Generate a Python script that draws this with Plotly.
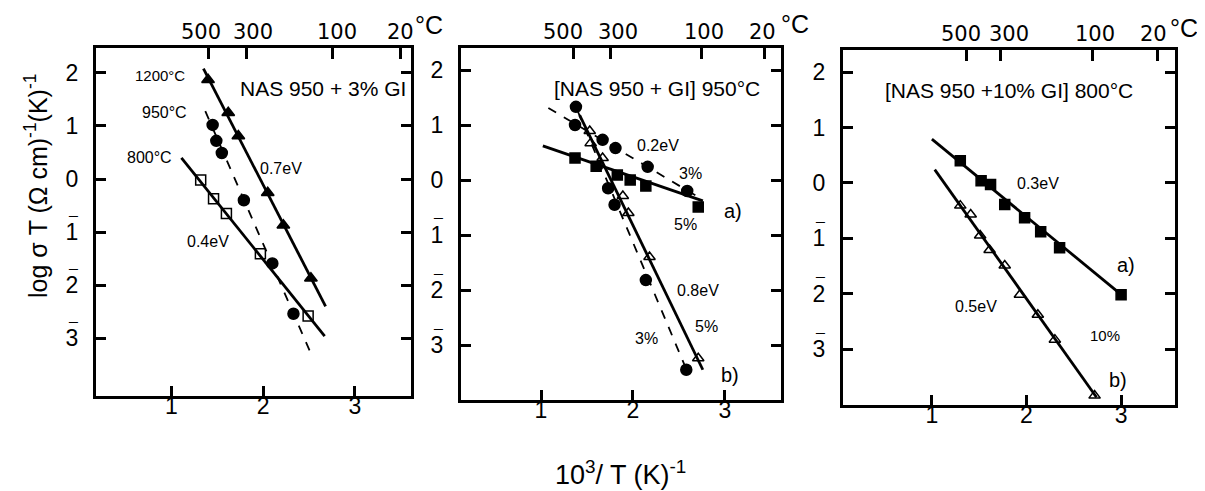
import plotly.graph_objects as go

# ---------------- data ----------------
# Panel 1: NAS 950 + 3% Gl
p1_tri_x = [1.40, 1.62, 1.73, 2.05, 2.22, 2.52]          # 1200 C
p1_tri_y = [1.87, 1.25, 0.81, -0.26, -0.87, -1.87]
p1_tri_fit_x = [1.35, 2.68]
p1_tri_fit_y = [2.08, -2.40]
p1_circ_x = [1.45, 1.49, 1.55, 1.79, 2.10, 2.33]         # 950 C
p1_circ_y = [1.02, 0.72, 0.49, -0.40, -1.59, -2.54]
p1_circ_fit_x = [1.37, 2.51]
p1_circ_fit_y = [1.28, -3.25]
p1_sq_x = [1.32, 1.46, 1.60, 1.97, 2.49]                 # 800 C
p1_sq_y = [-0.02, -0.37, -0.65, -1.41, -2.58]
p1_sq_fit_x = [1.11, 2.67]
p1_sq_fit_y = [0.40, -2.96]

# Panel 2: [NAS 950 + Gl] 950 C
p2_circA_x = [1.37, 1.67, 1.81, 2.16, 2.59]              # 3% a)
p2_circA_y = [1.00, 0.73, 0.58, 0.24, -0.20]
p2_circA_fit_x = [1.08, 2.76]
p2_circA_fit_y = [1.31, -0.36]
p2_sqA_x = [1.37, 1.60, 1.83, 1.97, 2.14, 2.71]          # 5% a)
p2_sqA_y = [0.40, 0.25, 0.09, 0.00, -0.11, -0.49]
p2_sqA_fit_x = [1.02, 2.76]
p2_sqA_fit_y = [0.62, -0.38]
p2_triB_x = [1.53, 1.54, 1.67, 1.89, 1.95, 2.18, 2.71]   # 5% b)
p2_triB_y = [0.89, 0.67, 0.40, -0.29, -0.60, -1.40, -3.24]
p2_triB_fit_x = [1.42, 2.76]
p2_triB_fit_y = [1.18, -3.45]
p2_circB_x = [1.38, 1.73, 1.80, 2.14, 2.58]              # 3% b)
p2_circB_y = [1.33, -0.15, -0.45, -1.82, -3.45]
p2_circB_fit_x = [1.40, 2.57]
p2_circB_fit_y = [1.25, -3.40]

# Panel 3: [NAS 950 + 10% Gl] 800 C
p3_sq_x = [1.30, 1.52, 1.62, 1.77, 1.98, 2.15, 2.35, 3.00]   # a)
p3_sq_y = [0.40, 0.04, -0.03, -0.39, -0.63, -0.88, -1.17, -2.02]
p3_sq_fit_x = [1.00, 3.04]
p3_sq_fit_y = [0.79, -2.07]
p3_tri_x = [1.30, 1.41, 1.51, 1.61, 1.77, 1.93, 2.12, 2.30, 2.72]  # b)
p3_tri_y = [-0.41, -0.57, -0.95, -1.21, -1.49, -2.02, -2.38, -2.83, -3.84]
p3_tri_fit_x = [1.03, 2.74]
p3_tri_fit_y = [0.24, -3.87]

# axis ticks (negative characteristics written with a bar over the digit)
bottom_ticks = [1, 2, 3]
y_ticks = [2, 1, 0, -1, -2, -3]
y_ticktext = ["2", "1", "0", "1", "2", "3"]
barred_ticks = [-1, -2, -3]
# top temperature scale (deg C): tick positions in 10^3/T units as drawn
top_ticktext = ["500", "300", "100", "20"]
top_tickpos_1 = [1.40, 1.82, 2.76, 3.50]
top_tickpos_2 = [1.35, 1.76, 2.74, 3.43]
top_tickpos_3 = [1.37, 1.73, 2.70, 3.39]

FONT = "Liberation Sans, Arial, Helvetica, sans-serif"
WIDEFONT = "DejaVu Sans, Verdana, sans-serif"
W, H = 1205, 491

fig = go.Figure()

def line(x, y, xa, ya, dash="solid", width=2.8):
    fig.add_trace(go.Scatter(x=x, y=y, mode="lines", xaxis=xa, yaxis=ya,
                             line=dict(color="black", width=width, dash=dash),
                             showlegend=False, hoverinfo="skip"))

def pts(x, y, xa, ya, symbol, size=10, lw=1.5):
    fig.add_trace(go.Scatter(x=x, y=y, mode="markers", xaxis=xa, yaxis=ya,
                             marker=dict(symbol=symbol, size=size, color="black",
                                         line=dict(color="black", width=lw)),
                             showlegend=False, hoverinfo="skip"))

# panel 1
line(p1_tri_fit_x, p1_tri_fit_y, "x", "y")
line(p1_circ_fit_x, p1_circ_fit_y, "x", "y", dash="dash", width=1.8)
line(p1_sq_fit_x, p1_sq_fit_y, "x", "y")
pts(p1_tri_x, p1_tri_y, "x", "y", "triangle-up", 11)
pts(p1_circ_x, p1_circ_y, "x", "y", "circle", 11)
pts(p1_sq_x, p1_sq_y, "x", "y", "square-open", 10)

# panel 2
line(p2_circA_fit_x, p2_circA_fit_y, "x2", "y2", dash="dash", width=1.8)
line(p2_sqA_fit_x, p2_sqA_fit_y, "x2", "y2")
line(p2_triB_fit_x, p2_triB_fit_y, "x2", "y2")
line(p2_circB_fit_x, p2_circB_fit_y, "x2", "y2", dash="dash", width=1.8)
pts(p2_circA_x, p2_circA_y, "x2", "y2", "circle", 11)
pts(p2_sqA_x, p2_sqA_y, "x2", "y2", "square", 10)
pts(p2_triB_x, p2_triB_y, "x2", "y2", "triangle-up-open", 10)
pts(p2_circB_x, p2_circB_y, "x2", "y2", "circle", 11)

# panel 3
line(p3_sq_fit_x, p3_sq_fit_y, "x3", "y3")
line(p3_tri_fit_x, p3_tri_fit_y, "x3", "y3")
pts(p3_sq_x, p3_sq_y, "x3", "y3", "square", 10)
pts(p3_tri_x, p3_tri_y, "x3", "y3", "triangle-up-open", 10)

# invisible traces on the top axes
for xa, ya, pos in (("x4", "y", top_tickpos_1), ("x5", "y2", top_tickpos_2), ("x6", "y3", top_tickpos_3)):
    fig.add_trace(go.Scatter(x=[pos[0]], y=[0], mode="markers", xaxis=xa, yaxis=ya,
                             marker=dict(opacity=0), showlegend=False, hoverinfo="skip"))

# panel geometry (pixels) and where the top labels sit (they are spread apart in the original)
panels = [
    dict(x0=88, x1=403, y0=40, y1=388, xr=[0.18, 3.61], yr=[-4.09, 2.47], top=top_tickpos_1,
         toplab=[193, 245, 329, 392], degc=(421, 17)),
    dict(x0=453, x1=773, y0=40, y1=392, xr=[0.13, 3.61], yr=[-4.0, 2.4], top=top_tickpos_2,
         toplab=[555, 610, 696, 754], degc=(787, 16)),
    dict(x0=835, x1=1167, y0=42, y1=397, xr=[0.06, 3.57], yr=[-4.01, 2.40], top=top_tickpos_3,
         toplab=[953, 1001, 1087, 1145], degc=(1176, 20)),
]

tickfont = dict(family=FONT, size=23, color="black")
layout = dict()
for i, p in enumerate(panels):
    n = "" if i == 0 else str(i + 1)
    xd = [p["x0"] / W, p["x1"] / W]
    yd = [1 - p["y1"] / H, 1 - p["y0"] / H]
    layout["xaxis" + n] = dict(domain=xd, range=p["xr"], anchor="y" + n,
                               tickvals=bottom_ticks, ticks="inside", ticklen=10, tickwidth=2.5,
                               tickcolor="black", showline=True, linecolor="black", linewidth=3,
                               mirror=True, showgrid=False, zeroline=False, tickfont=tickfont,
                               ticklabelstandoff=-13)
    layout["yaxis" + n] = dict(domain=yd, range=p["yr"], anchor="x" + n,
                               tickvals=y_ticks, ticktext=y_ticktext, ticks="inside", ticklen=10,
                               tickwidth=2.5, tickcolor="black", showline=True, linecolor="black",
                               linewidth=3, mirror="ticks", showgrid=False, zeroline=False,
                               tickfont=tickfont, ticklabelstandoff=10)
    layout["xaxis" + str(i + 4)] = dict(overlaying="x" + n, side="top", anchor="y" + n,
                                         range=p["xr"], tickvals=p["top"], showticklabels=False,
                                         ticks="inside", ticklen=11, tickwidth=2.5, tickcolor="black",
                                         showline=False, showgrid=False, zeroline=False)
    # top temperature labels
    top_y = (p["y0"] - 16)
    for lab, px in zip(top_ticktext, p["toplab"]):
        fig.add_annotation(x=px / W, y=1 - top_y / H, xref="paper", yref="paper", text=lab,
                           showarrow=False, xanchor="center", yanchor="middle",
                           font=dict(family=WIDEFONT, size=21, color="black"))
    fig.add_annotation(x=p["degc"][0] / W, y=1 - p["degc"][1] / H, xref="paper", yref="paper",
                       text="°C", showarrow=False, xanchor="center", yanchor="middle",
                       font=dict(family=FONT, size=25, color="black"))
    # bars over the negative tick digits
    for v in barred_ticks:
        fig.add_annotation(x=0, y=v, xref="x" + n + " domain", yref="y" + n, text="¯",
                           showarrow=False, xanchor="center", yanchor="middle",
                           xshift=-23, yshift=9,
                           font=dict(family=FONT, size=16, color="black"))

fig.update_layout(**layout)

annots = [
    # panel 1
    (152, 67, "1200°C", 15), (156, 105, "950°C", 16), (141, 150, "800°C", 16),
    (315, 80, "NAS 950 + 3% GI", 21), (273, 160, "0.7eV", 16), (200, 233, "0.4eV", 16),
    # panel 2
    (649, 80, "[NAS 950 + GI] 950°C", 21), (650, 137, "0.2eV", 16), (682, 165, "3%", 16),
    (725, 203, "a)", 20), (677, 216, "5%", 16), (690, 282, "0.8eV", 16), (698, 318, "5%", 16),
    (638, 330, "3%", 16), (722, 367, "b)", 20),
    # panel 3
    (1001, 82, "[NAS 950 +10% GI] 800°C", 21), (1030, 175, "0.3eV", 16), (1118, 257, "a)", 20),
    (1110, 372, "b)", 20), (968, 298, "0.5eV", 16), (1097, 327, "10%", 15),
]
for x, y, t, s in annots:
    fig.add_annotation(x=x / W, y=1 - y / H, xref="paper", yref="paper", text=t, showarrow=False,
                       xanchor="center", yanchor="middle",
                       font=dict(family=FONT, size=s, color="black"))

fig.add_annotation(x=28 / W, y=1 - 178 / H, xref="paper", yref="paper",
                   text="log σ T (Ω cm)<sup>-1</sup>(K)<sup>-1</sup>", textangle=-90, showarrow=False,
                   xanchor="center", yanchor="middle", font=dict(family=FONT, size=25, color="black"))
fig.add_annotation(x=612 / W, y=1 - 465 / H, xref="paper", yref="paper",
                   text="10<sup>3</sup>/ T (K)<sup>-1</sup>", showarrow=False,
                   xanchor="center", yanchor="middle", font=dict(family=FONT, size=27, color="black"))

fig.update_layout(width=W, height=H, margin=dict(l=0, r=0, t=0, b=0),
                  paper_bgcolor="white", plot_bgcolor="white", showlegend=False)

fig.write_html("out.html")
